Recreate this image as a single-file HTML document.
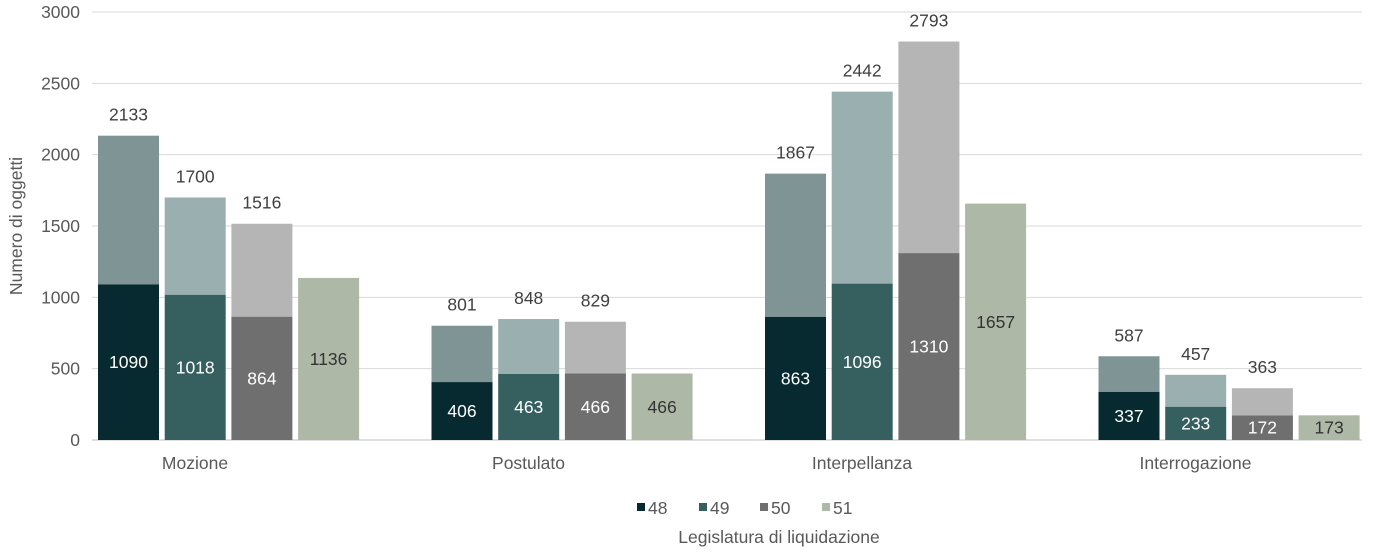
<!DOCTYPE html>
<html><head><meta charset="utf-8"><style>
body{margin:0;background:#fff;}
svg text{font-family:"Liberation Sans",Arial,sans-serif;}
</style></head><body>
<svg id="c" width="1379" height="551" xmlns="http://www.w3.org/2000/svg"></svg>
<script>
const categories=["Mozione","Postulato","Interpellanza","Interrogazione"];
const legislature=["48","49","50","51"];
const baseValues=[[1090,1018,864,1136],[406,463,466,466],[863,1096,1310,1657],[337,233,172,173]];
const totalValues=[[2133,1700,1516,null],[801,848,829,null],[1867,2442,2793,null],[587,457,363,null]];
const yTicks=[0,500,1000,1500,2000,2500,3000];
const NS="http://www.w3.org/2000/svg";
const svg=document.getElementById('c');
const y0=440,y1=12,yMax=3000,FS=17.5;
const y=v=>y0-(v/yMax)*(y0-y1);
const gx=i=>92+i*333.5;
const bx=(i,j)=>gx(i)+6+j*66.7;
const bw=61;
const baseCol=["#062a30","#35605f","#6f6f6f","#adb9a6"];
const topCol=["#7f9494","#9ab0b0","#b5b5b5","#adb9a6"];
const inCol=["#fff","#fff","#fff","#333"];
function el(t,a,txt){const e=document.createElementNS(NS,t);for(const k in a)e.setAttribute(k,a[k]);if(txt!=null)e.textContent=txt;svg.appendChild(e);return e;}
yTicks.forEach(v=>{
 const l=el('line',{x1:92,x2:1362,y1:y(v),y2:y(v),stroke:v===0?'#bfbfbf':'#d9d9d9','stroke-width':1});
 
 
 const t=el('text',{x:80,y:y(v)+6,'text-anchor':'end','font-size':FS,fill:'#595959'},v);
 
 
});
categories.forEach((c,i)=>{
 const t=el('text',{x:gx(i)+103,y:469,'text-anchor':'middle','font-size':FS,fill:'#595959'},c);
 
 
 for(let j=0;j<4;j++){
  const b=baseValues[i][j],tot=totalValues[i][j],x=bx(i,j);
  if(tot!=null){
   const r=el('rect',{x:x,y:y(tot),width:bw,height:y(b)-y(tot),fill:topCol[j]});
   
   
   const tl=el('text',{x:x+bw/2,y:y(tot)-15,'text-anchor':'middle','font-size':FS,fill:'#404040'},tot);
   
   
  }
  const r=el('rect',{x:x,y:y(b),width:bw,height:y0-y(b),fill:baseCol[j]});
  
  
  const bl=el('text',{x:x+bw/2,y:(y(b)+y0)/2+6,'text-anchor':'middle','font-size':FS,fill:inCol[j]},b);
  
  
 }
});
const yt=el('text',{x:22,y:226,'text-anchor':'middle','font-size':FS,fill:'#595959',transform:'rotate(-90 22 226)'},'Numero di oggetti');


const xt=el('text',{x:779,y:543,'text-anchor':'middle','font-size':FS,fill:'#595959'},'Legislatura di liquidazione');


const lx=[637,699,760,822];
legislature.forEach((l,j)=>{
 const s=el('rect',{x:lx[j],y:503,width:8,height:8,fill:baseCol[j]});
 
 
 const t=el('text',{x:lx[j]+11,y:514,'font-size':FS,fill:'#595959'},l);
 
 
});
</script>
</body></html>
